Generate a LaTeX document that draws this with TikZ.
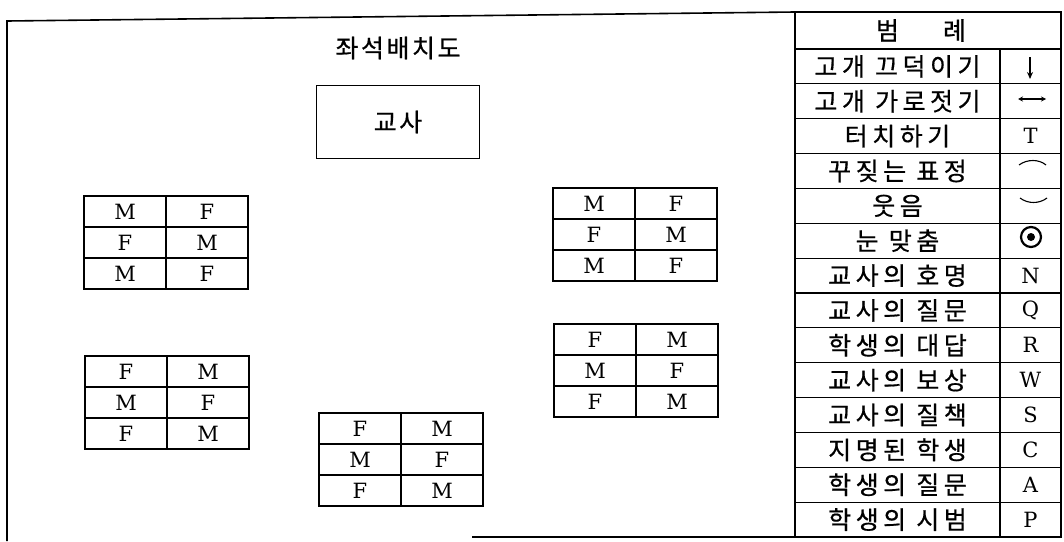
\documentclass[tikz,border=0pt]{standalone}
\usepackage{fontspec}
\newfontfamily\kr[LetterSpace=18,FakeBold=0.6]{Noto Sans CJK KR}
\newfontfamily\krt[LetterSpace=10,FakeBold=0.6]{Noto Sans CJK KR}
\newfontfamily\lat{DejaVu Serif}
\usetikzlibrary{arrows.meta}
\newcommand\seatgroup[4]{%
  \foreach \r/\a/\b in {0/#4/\otherL,1/\otherL/#4,2/#4/\otherL}{%
    \node[seatcell] (#1-\r-a) at (#2+41, #3+15.5+31*\r) {\a};
    \node[seatcell] (#1-\r-b) at (#2+123, #3+15.5+31*\r) {\b};
  }}
\begin{document}
\begin{tikzpicture}[x=1pt,y=-1pt,
  frameline/.style={line width=1.6pt},
  seatcell/.style={draw, line width=1.2pt, minimum width=82pt, minimum height=31pt,
    inner sep=0pt, outer sep=0pt, font=\fontsize{21}{21}\lat},
  ktext/.style={font=\fontsize{25}{28}\krt},
  legtext/.style={draw, line width=1.2pt, minimum width=205pt, minimum height=34.86pt,
    inner sep=0pt, outer sep=0pt, font=\fontsize{25}{28}\kr},
  legsym/.style={draw, line width=1.2pt, minimum width=61pt, minimum height=34.86pt,
    inner sep=0pt, outer sep=0pt, font=\fontsize{21}{21}\lat},
  symline/.style={line width=1.3pt}]
\useasboundingbox (0,0) rectangle (1064,541);
% outer frame
\draw[frameline] (7,541) -- (7,21) -- (795,12);
\draw[frameline] (472,537) -- (1061,537);
% title and teacher
\node[ktext] (title) at (398,48) {좌석배치도};
\node[ktext, draw, line width=1.2pt, minimum width=163pt, minimum height=73pt] (teacher) at (398,122) {교사};
% seat groups
\def\otherL{F}
\seatgroup{lt}{84}{196}{M}
\seatgroup{rt}{553}{188}{M}
\def\otherL{M}
\seatgroup{lb}{85}{356}{F}
\seatgroup{rb}{554}{324}{F}
\seatgroup{bc}{319}{413}{F}
% legend
\node[draw, line width=1.2pt, minimum width=266pt, minimum height=37pt, inner sep=0pt, outer sep=0pt] (leghead) at (928,30.5) {};
\node[font=\fontsize{25}{28}\krt] (legtitle) at (921,30.5) {범\hspace{44pt}례};
\foreach \i/\t/\s in {1/고개 끄덕이기/,2/고개 가로젓기/,3/터치하기/T,4/꾸짖는 표정/,5/웃음/,
  6/눈 맞춤/,7/교사의 호명/N,8/교사의 질문/Q,9/학생의 대답/R,10/교사의 보상/W,
  11/교사의 질책/S,12/지명된 학생/C,13/학생의 질문/A,14/학생의 시범/P}{
  \node[legtext] (lt\i) at (897.5, 49+34.857*\i-17.43) {\t};
  \node[legsym] (ls\i) at (1030.5, 49+34.857*\i-17.43) {\s};
}
\draw[line width=2.4pt] (1061,11) -- (1061,537);
\draw[frameline] (795,12) -- (1061,12);
\draw[frameline] (795,12) -- (795,537);
% drawn symbols
\draw[line width=1.5pt, -{Stealth[length=7pt,width=6pt]}] (1030,57) -- (1030,79);
\draw[symline, {Stealth[length=5pt,width=5pt]}-{Stealth[length=5pt,width=5pt]}] (1018,99) -- (1046,99);
\draw[line width=1.1pt] (1019,165) .. controls (1027,159) and (1039,159) .. (1046,165);
\draw[line width=1.1pt] (1020,198) .. controls (1028,204) and (1039,204) .. (1047,198);
\draw[line width=2.2pt] (1031,237) circle (10pt);
\fill (1031,237) circle (4pt);
\end{tikzpicture}
\end{document}
